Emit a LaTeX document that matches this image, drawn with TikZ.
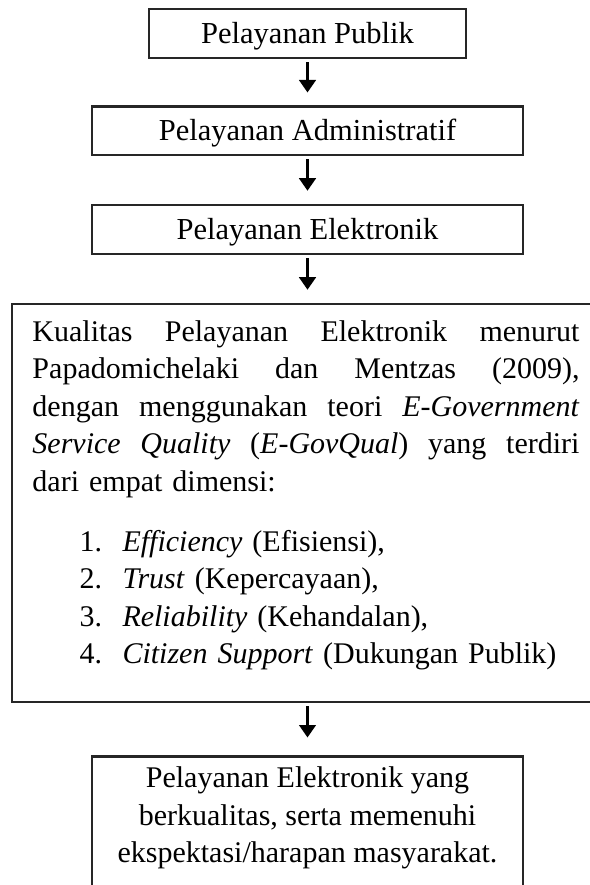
\documentclass[tikz,border=0pt]{standalone}
\usepackage{fontspec}
\setmainfont{Liberation Serif}
\usetikzlibrary{arrows.meta}
\tikzset{
    kotak/.style={draw=black!85, line width=1pt, inner sep=0pt},
    judul/.style={font=\fontsize{12.2}{15}\selectfont, text height=8pt, text depth=0pt},
    panah/.style={-{Triangle[width=6.6pt,length=5pt]}, line width=1.1pt, shorten <=1.2pt, shorten >=5.2pt},
    isi/.style={font=\fontsize{12}{15}\selectfont, inner sep=0pt}
}
\begin{document}
\begin{tikzpicture}[x=0.4pt, y=-0.4pt]
    \useasboundingbox (0,0) rectangle (589,885);
    \node[kotak, judul, minimum width=126.8pt, minimum height=19.6pt] (publik) at (307.5,33.5) {Pelayanan Publik};
    \node[kotak, judul, minimum width=172.4pt, minimum height=19.4pt] (administratif) at (307.5,131) {Pelayanan Administratif};
    \node[kotak, judul, minimum width=172.4pt, minimum height=19.6pt] (elektronik) at (307.5,229.5) {Pelayanan Elektronik};
    \node[kotak, minimum width=236.4pt, minimum height=159.2pt] (kualitas) at (307.5,503) {};
    \node[isi, text width=218.8pt, align=left, anchor=north west] (kualitasisi) at (32,320) {%
        \makebox[218.8pt][s]{Kualitas\hfill Pelayanan\hfill Elektronik\hfill menurut}\\
        \makebox[218.8pt][s]{Papadomichelaki\hfill dan\hfill Mentzas\hfill (2009),}\\
        \makebox[218.8pt][s]{dengan\hfill menggunakan\hfill teori\hfill \textit{E-Government}}\\
        \makebox[218.8pt][s]{\textit{Service}\hfill \textit{Quality}\hfill (\textit{E-GovQual})\hfill yang\hfill terdiri}\\
        dari empat dimensi:\\[9pt]
        \hspace*{18.8pt}\makebox[17.2pt][l]{1.}\textit{Efficiency} (Efisiensi),\\
        \hspace*{18.8pt}\makebox[17.2pt][l]{2.}\textit{Trust} (Kepercayaan),\\
        \hspace*{18.8pt}\makebox[17.2pt][l]{3.}\textit{Reliability} (Kehandalan),\\
        \hspace*{18.8pt}\makebox[17.2pt][l]{4.}\textit{Citizen Support} (Dukungan Publik)};
    \node[kotak, minimum width=172.4pt, minimum height=60pt, anchor=north] (harapan) at (307.5,755) {};
    \node[isi, align=center] (harapanisi) at (307.5,818) {Pelayanan Elektronik yang\\berkualitas, serta memenuhi\\ekspektasi/harapan masyarakat.};
    \draw[panah] (publik) -- (administratif);
    \draw[panah] (administratif) -- (elektronik);
    \draw[panah] (elektronik) -- (kualitas);
    \draw[panah, shorten >=7pt] (kualitas) -- (harapan);
\end{tikzpicture}
\end{document}
